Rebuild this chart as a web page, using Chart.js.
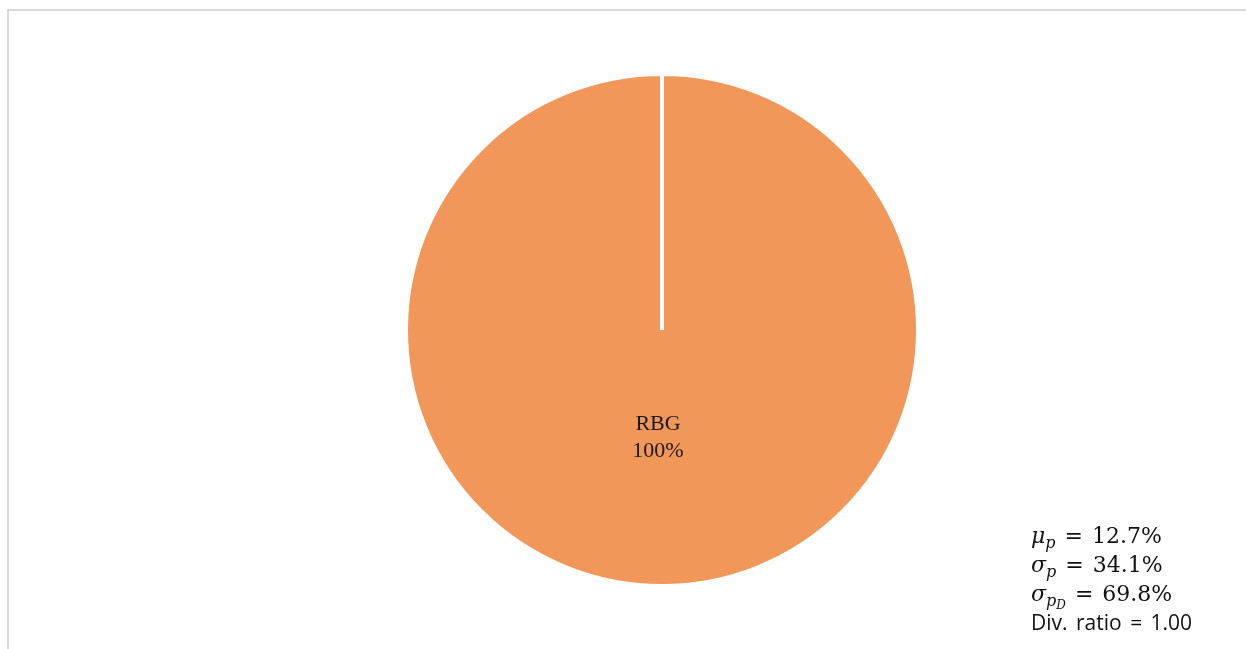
<!DOCTYPE html>
<html>
<head>
<meta charset="utf-8">
<script src="https://cdn.jsdelivr.net/npm/chart.js@4/dist/chart.umd.min.js"></script>
<style>
  html, body { margin: 0; padding: 0; background: #fff; overflow: hidden; }
  #frame { position: absolute; left: 7px; top: 9px; width: 1300px; height: 700px; border: 2px solid #d9d9d9; }
  #wrap { position: absolute; left: 0; top: 0; width: 1246px; height: 649px; }
  #stats { position: absolute; left: 1031px; top: 521px; color: #111; line-height: 29px; }
  .m { font-family: "DejaVu Serif", "Liberation Serif", serif; font-size: 22px; }
  .m i { font-style: italic; }
  .m .eq { margin: 0 9px; }
  .m sub { font-size: 16px; font-style: italic; vertical-align: -5px; line-height: 0; }
  .m sub sub { font-size: 12px; vertical-align: -3px; }
  .t { font-family: "Open Sans", "Liberation Sans", sans-serif; font-size: 21px; word-spacing: 3px; }
</style>
</head>
<body>
<div id="frame"></div>
<div id="wrap"><canvas id="pie"></canvas></div>
<div id="stats">
  <div class="m"><i>μ</i><sub>p</sub><span class="eq">=</span>12.7%</div>
  <div class="m"><i>σ</i><sub>p</sub><span class="eq">=</span>34.1%</div>
  <div class="m"><i>σ</i><sub>p<sub>D</sub></sub><span class="eq">=</span>69.8%</div>
  <div class="t">Div. ratio = 1.00</div>
</div>
<script>
// Portfolio weights
const labels = ['RBG'];
const weights = [100];
const sliceColors = ['#F1975A'];

// Draw "name / percent" inside each slice
const sliceLabels = {
    id: 'sliceLabels',
    afterDatasetsDraw(chart) {
        const ctx = chart.ctx;
        const meta = chart.getDatasetMeta(0);
        const total = weights.reduce((a, b) => a + b, 0);
        ctx.save();
        ctx.fillStyle = '#1a1a1a';
        ctx.font = '22px "Liberation Serif", "Times New Roman", serif';
        ctx.textAlign = 'center';
        ctx.textBaseline = 'middle';
        meta.data.forEach((arc, i) => {
            const p = arc.getProps(['x', 'y', 'startAngle', 'endAngle', 'outerRadius'], true);
            const mid = (p.startAngle + p.endAngle) / 2;
            const r = p.outerRadius * 0.42;
            const x = p.x + Math.cos(mid) * r - 4;
            const y = p.y + Math.sin(mid) * r;
            const pct = Math.round(weights[i] / total * 100) + '%';
            ctx.fillText(labels[i], x, y - 13);
            ctx.fillText(pct, x, y + 14);
        });
        ctx.restore();
    }
};

new Chart(document.getElementById('pie'), {
    type: 'pie',
    data: {
        labels: labels,
        datasets: [{
            data: weights,
            backgroundColor: sliceColors,
            borderColor: '#ffffff',
            borderWidth: 4,
            radius: 256
        }]
    },
    options: {
        responsive: true,
        maintainAspectRatio: false,
        animation: false,
        layout: { padding: { left: 78, top: 11 } },
        plugins: {
            legend: { display: false },
            tooltip: { enabled: false }
        }
    },
    plugins: [sliceLabels]
});
</script>
</body>
</html>
